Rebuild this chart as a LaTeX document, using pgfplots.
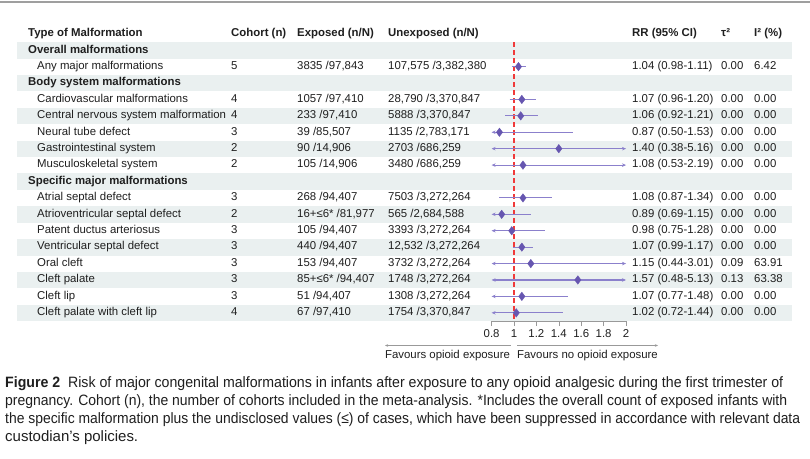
\documentclass[border=0pt]{standalone}
\usepackage{pgfplots}
\pgfplotsset{compat=1.18}
\usepackage{fontspec}
\setmainfont{Liberation Sans}
\newfontfamily\capfont[FakeStretch=0.9]{Liberation Sans}
\usetikzlibrary{arrows.meta}
\definecolor{txt}{HTML}{1F1F1F}
\definecolor{band}{HTML}{EAF0F0}
\definecolor{dia}{HTML}{6656B0}
\definecolor{ci}{HTML}{8B80CC}
\definecolor{refred}{HTML}{F03A3A}
\newcommand\tf{\fontsize{11.4}{13.7}\selectfont}
\newcommand\T[3]{\node[anchor=mid west,inner sep=0pt,text=txt,font=\tf] at (#1,{-(34+16.41*#2)}) {#3};}
\newcommand\R[8]{\T{37}{#1}{#2}\T{231}{#1}{#3}\T{297}{#1}{#4}\T{388}{#1}{#5}\T{632}{#1}{#6}\T{721}{#1}{#7}\T{754}{#1}{#8}}
\newcommand\capl[3]{\node[anchor=mid west,inner sep=0pt,text=txt] at (5,#1) {\resizebox{#2pt}{\height}{\capfont\fontsize{15}{17}\selectfont #3}};}
\begin{document}
\begin{tikzpicture}[x=1pt,y=1pt]
\useasboundingbox (0,0) rectangle (810,-458);
\fill[white] (0,0) rectangle (810,-458);
\draw[gray!75, line width=1.3pt] (0,-2) -- (810,-2);
\foreach \k in {1,3,...,17} {\fill[band] (17,{-(34+16.41*\k-8.205)}) rectangle (792,{-(34+16.41*\k+8.205)});}
% header
\T{28}{0}{\textbf{Type of Malformation}}
\T{231}{0}{\textbf{Cohort (n)}}
\T{297}{0}{\textbf{Exposed (n/N)}}
\T{388}{0}{\textbf{Unexposed (n/N)}}
\T{632}{0}{\textbf{RR (95\% CI)}}
\T{721}{0}{\textbf{τ²}}
\T{754}{0}{\textbf{I² (\%)}}
\T{28}{1}{\textbf{Overall malformations}}
\R{2}{Any major malformations}{5}{3835 /97,843}{107,575 /3,382,380}{1.04 (0.98-1.11)}{0.00}{6.42}
\T{28}{3}{\textbf{Body system malformations}}
\R{4}{Cardiovascular malformations}{4}{1057 /97,410}{28,790 /3,370,847}{1.07 (0.96-1.20)}{0.00}{0.00}
\R{5}{Central nervous system malformation}{4}{233 /97,410}{5888 /3,370,847}{1.06 (0.92-1.21)}{0.00}{0.00}
\R{6}{Neural tube defect}{3}{39 /85,507}{1135 /2,783,171}{0.87 (0.50-1.53)}{0.00}{0.00}
\R{7}{Gastrointestinal system}{2}{90 /14,906}{2703 /686,259}{1.40 (0.38-5.16)}{0.00}{0.00}
\R{8}{Musculoskeletal system}{2}{105 /14,906}{3480 /686,259}{1.08 (0.53-2.19)}{0.00}{0.00}
\T{28}{9}{\textbf{Specific major malformations}}
\R{10}{Atrial septal defect}{3}{268 /94,407}{7503 /3,272,264}{1.08 (0.87-1.34)}{0.00}{0.00}
\R{11}{Atrioventricular septal defect}{2}{16+≤6* /81,977}{565 /2,684,588}{0.89 (0.69-1.15)}{0.00}{0.00}
\R{12}{Patent ductus arteriosus}{3}{105 /94,407}{3393 /3,272,264}{0.98 (0.75-1.28)}{0.00}{0.00}
\R{13}{Ventricular septal defect}{3}{440 /94,407}{12,532 /3,272,264}{1.07 (0.99-1.17)}{0.00}{0.00}
\R{14}{Oral cleft}{3}{153 /94,407}{3732 /3,272,264}{1.15 (0.44-3.01)}{0.09}{63.91}
\R{15}{Cleft palate}{3}{85+≤6* /94,407}{1748 /3,272,264}{1.57 (0.48-5.13)}{0.13}{63.38}
\R{16}{Cleft lip}{3}{51 /94,407}{1308 /3,272,264}{1.07 (0.77-1.48)}{0.00}{0.00}
\R{17}{Cleft palate with cleft lip}{4}{67 /97,410}{1754 /3,370,847}{1.02 (0.72-1.44)}{0.00}{0.00}
\begin{axis}[
  at={(491.6pt,-321pt)}, anchor=south west,
  width=134.4pt, height=279pt, scale only axis,
  xmin=0.8, xmax=2, ymin=0.5, ymax=17.5, y dir=reverse,
  axis y line=none, axis x line*=bottom,
  x axis line style={-, draw=gray!80, line width=0.6pt},
  xtick={0.8,1,1.2,1.4,1.6,1.8,2},
  tick align=outside, major tick length=5pt,
  xtick style={draw=gray!80, line width=0.6pt},
  ticklabel style={font=\tf, text=txt},
  xticklabel style={/pgf/number format/assume math mode=true},
  clip=false,
]
\addplot[refred, line width=1.4pt, dash pattern=on 5pt off 3pt] coordinates {(1,0.5) (1,17.5)};
\pgfplotsset{cis/.style={ci, line width=1.1pt}, la/.style={{Stealth[length=4pt,width=3.5pt]}-}, ba/.style={{Stealth[length=4pt,width=3.5pt]}-{Stealth[length=4pt,width=3.5pt]}}}
\addplot[cis] coordinates {(0.98,2) (1.11,2)};
\addplot[cis] coordinates {(0.96,4) (1.20,4)};
\addplot[cis] coordinates {(0.92,5) (1.21,5)};
\addplot[cis,la] coordinates {(0.8,6) (1.53,6)};
\addplot[cis,ba] coordinates {(0.8,7) (2,7)};
\addplot[cis,ba] coordinates {(0.8,8) (2,8)};
\addplot[cis] coordinates {(0.87,10) (1.34,10)};
\addplot[cis,la] coordinates {(0.8,11) (1.15,11)};
\addplot[cis,la] coordinates {(0.8,12) (1.28,12)};
\addplot[cis] coordinates {(0.99,13) (1.17,13)};
\addplot[cis,ba] coordinates {(0.8,14) (2,14)};
\addplot[cis,ba] coordinates {(0.8,15) (2,15)};
\addplot[cis,la] coordinates {(0.8,16) (1.48,16)};
\addplot[cis,la] coordinates {(0.8,17) (1.44,17)};
\addplot[only marks, mark=diamond*, mark size=4.2pt, color=dia] coordinates {
(1.04,2) (1.07,4) (1.06,5) (0.87,6) (1.40,7) (1.08,8)
(1.08,10) (0.89,11) (0.98,12) (1.07,13) (1.15,14) (1.57,15) (1.07,16) (1.02,17)};
\end{axis}
\draw[gray!80, line width=0.5pt, -{Stealth[length=3pt,width=2.5pt]}] (510.5,-345.5) -- (385,-345.5);
\draw[gray!80, line width=0.5pt, -{Stealth[length=3pt,width=2.5pt]}] (517,-345.5) -- (658,-345.5);
\node[anchor=mid,inner sep=0pt,text=txt,font=\tf] at (447.5,-356) {Favours opioid exposure};
\node[anchor=mid,inner sep=0pt,text=txt,font=\tf] at (587.5,-356) {Favours no opioid exposure};
\capl{-385}{778}{\textbf{Figure 2}\ \ Risk of major congenital malformations in infants after exposure to any opioid analgesic during the first trimester of}
\capl{-403}{782}{pregnancy. Cohort (n), the number of cohorts included in the meta-analysis. *Includes the overall count of exposed infants with}
\capl{-421}{795}{the specific malformation plus the undisclosed values (≤) of cases, which have been suppressed in accordance with relevant data}
\node[anchor=mid west,inner sep=0pt,text=txt] at (5,-439) {\scalebox{1.11}[1]{\capfont\fontsize{15}{17}\selectfont custodian’s policies.}};
\end{tikzpicture}
\end{document}
